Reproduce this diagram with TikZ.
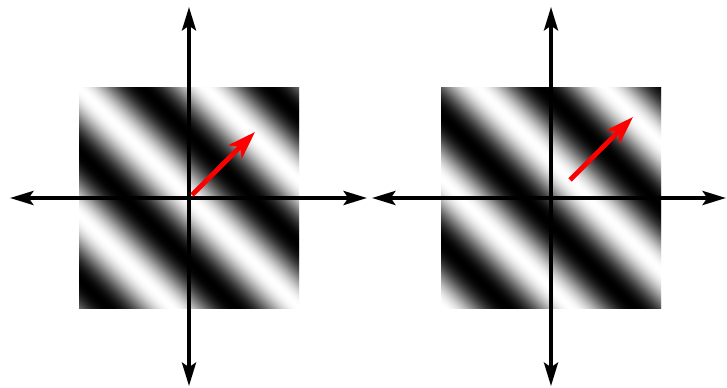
\documentclass[tikz,border=0pt]{standalone}
\usepackage{xcolor}
\usepackage{tikz}
\usetikzlibrary{arrows.meta}
\definecolor{vecred}{RGB}{255, 0, 0}

\begin{document}
\begin{tikzpicture}[
    x=0.03cm, y=0.03cm,
    axis/.style={{Stealth[length=20pt, width=12pt, inset=4pt]}-{Stealth[length=20pt, width=12pt, inset=4pt]}, line width=3pt, black},
    wavevec/.style={-{Stealth[length=24pt, width=16pt, inset=6pt]}, line width=4pt, vecred}
]
\useasboundingbox (0,0) rectangle (727,387);

% Gratings (second one phase shifted)
\foreach \cx/\ph in {189/0, 551/37} {
  \begin{scope}[shift={(\cx,189)}]
    \clip (-110,-110) rectangle (110,110);
    \foreach \u in {-232,-230,...,232} {
      \pgfmathsetmacro{\lvl}{100*(0.501+0.499*cos(2.8284*(\u+1-\ph)))^1.1}
      \fill[white!\lvl!black] (-250,\u+250) -- (250,\u-250) -- (250,\u-247.5) -- (-250,\u+252.5) -- cycle;
    }
  \end{scope}
}

% Axes end points
\coordinate (left-W) at (10,189);
\coordinate (left-E) at (367,189);
\coordinate (left-S) at (189,1);
\coordinate (left-N) at (189,380);
\coordinate (right-W) at (372,189);
\coordinate (right-E) at (726,189);
\coordinate (right-S) at (551,1);
\coordinate (right-N) at (551,380);

% Axes
\draw[axis] (left-W) -- (left-E);
\draw[axis] (left-S) -- (left-N);
\draw[axis] (right-W) -- (right-E);
\draw[axis] (right-S) -- (right-N);

% Wave vectors
\coordinate (left-k0) at (192,192);
\coordinate (left-k1) at (255,255);
\coordinate (right-k0) at (570,207);
\coordinate (right-k1) at (633,270);
\draw[wavevec] (left-k0) -- (left-k1);
\draw[wavevec] (right-k0) -- (right-k1);
\end{tikzpicture}
\end{document}
